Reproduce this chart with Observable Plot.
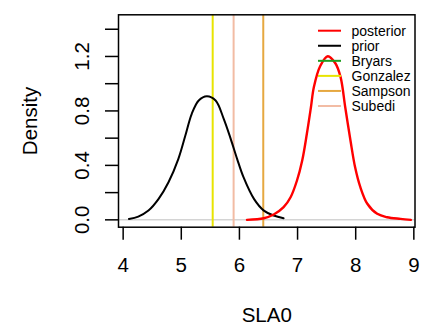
<!DOCTYPE html>
<html><head><meta charset="utf-8">
<script src="https://cdn.jsdelivr.net/npm/d3@7"></script>
<script src="https://cdn.jsdelivr.net/npm/@observablehq/plot@0.6"></script>
<style>
body{margin:0;background:#fff}
#wrap{position:relative;width:424px;height:325px}
#wrap svg{display:block}
#legend{position:absolute;left:0;top:0;pointer-events:none}
</style>
</head><body><div id="wrap"></div>
<script>
// Prior density curve
const priorX = [4.10, 4.26, 4.435, 4.61, 4.78, 4.95, 5.07, 5.18, 5.30, 5.44, 5.59, 5.73, 5.85, 5.96, 6.07, 6.25, 6.42, 6.59, 6.76];
const priorY = [0.007, 0.024, 0.068, 0.154, 0.276, 0.448, 0.619, 0.779, 0.877, 0.908, 0.877, 0.742, 0.595, 0.448, 0.313, 0.154, 0.068, 0.032, 0.012];
// Posterior density curve
const postX = [6.13, 6.42, 6.59, 6.76, 6.88, 6.99, 7.08, 7.16, 7.23, 7.28, 7.39, 7.52, 7.65, 7.74, 7.82, 7.91, 7.99, 8.08, 8.20, 8.37, 8.54, 8.77, 8.95];
const postY = [0.000, 0.012, 0.039, 0.093, 0.166, 0.289, 0.436, 0.632, 0.827, 0.974, 1.130, 1.202, 1.150, 1.048, 0.827, 0.583, 0.386, 0.240, 0.118, 0.044, 0.019, 0.007, 0.000];
// Reference values (vertical lines)
const refNames = ["Gonzalez", "Subedi", "Sampson"];
const refValues = [5.54, 5.90, 6.41];
// Legend
const legendLabels = ["posterior", "prior", "Bryars", "Gonzalez", "Sampson", "Subedi"];
const legendColors = ["#ff0000", "#000000", "#1f9e1f", "#e8e400", "#e6a840", "#f2bca4"];
// Ticks
const xTicks = [4, 5, 6, 7, 8, 9];
const yTicks = [0, 0.2, 0.4, 0.6, 0.8, 1, 1.2, 1.4];
const yLabelled = [0, 0.4, 0.8, 1.2];

const colorOf = Object.fromEntries(legendLabels.map((l, i) => [l, legendColors[i]]));
const prior = priorX.map((x, i) => ({x, y: priorY[i]}));
const post = postX.map((x, i) => ({x, y: postY[i]}));
const refs = refNames.map((n, i) => ({name: n, v: refValues[i]}));

const font = "'Liberation Sans', Arial, Helvetica, sans-serif";
const W = 424, H = 325, mL = 118, mR = 9.5, mT = 14.3, mB = 98.3;
const fs = 20.5;

const chart = Plot.plot({
  width: W, height: H,
  marginLeft: mL, marginRight: mR, marginTop: mT, marginBottom: mB,
  x: {domain: [3.92, 9.02]},
  y: {domain: [-0.054, 1.506]},
  style: {fontFamily: font, background: "white", color: "black"},
  marks: [
    Plot.ruleY([0], {stroke: "#bebebe", strokeWidth: 1}),
    Plot.ruleX(refs, {x: "v", stroke: d => colorOf[d.name], strokeWidth: 2}),
    Plot.line(prior, {x: "x", y: "y", stroke: "black", strokeWidth: 2, curve: "catmull-rom"}),
    Plot.line(post, {x: "x", y: "y", stroke: "#ff0000", strokeWidth: 2.4, curve: "catmull-rom"}),
    Plot.frame({stroke: "black", strokeWidth: 1.5}),
    Plot.axisX({ticks: xTicks, tickSize: 13, tickPadding: 17.5, fontSize: fs, strokeWidth: 1.5, label: null, tickFormat: d => String(d)}),
    Plot.axisY({ticks: yTicks, tickSize: 13, tickPadding: 17, tickRotate: -90, fontSize: fs, strokeWidth: 1.5, label: null,
      tickFormat: d => yLabelled.includes(d) ? d.toFixed(1) : ""}),
    Plot.text(["SLA0"], {text: d => d, frameAnchor: "bottom", textAnchor: "middle", dy: 94.5, lineAnchor: "bottom", fontSize: fs}),
    Plot.text(["Density"], {text: d => d, frameAnchor: "left", textAnchor: "middle", rotate: -90, dx: -81.5, lineAnchor: "bottom", fontSize: fs})
  ]
});
const wrap = document.getElementById("wrap");
wrap.appendChild(chart);

// Legend overlay (no box)
const lg = d3.select(wrap).append("svg").attr("id", "legend").attr("width", W).attr("height", H)
  .style("font-family", font);
const rows = lg.selectAll("g").data(legendLabels).join("g")
  .attr("transform", (d, i) => `translate(0,${30.7 + 15.06 * i})`);
rows.append("line").attr("x1", 318).attr("x2", 341).attr("y1", 0).attr("y2", 0)
  .attr("stroke", (d, i) => legendColors[i]).attr("stroke-width", 2);
rows.append("text").attr("x", 351.5).attr("dy", "0.36em").attr("font-size", 14).attr("fill", "black").text(d => d);
</script>
</body></html>
